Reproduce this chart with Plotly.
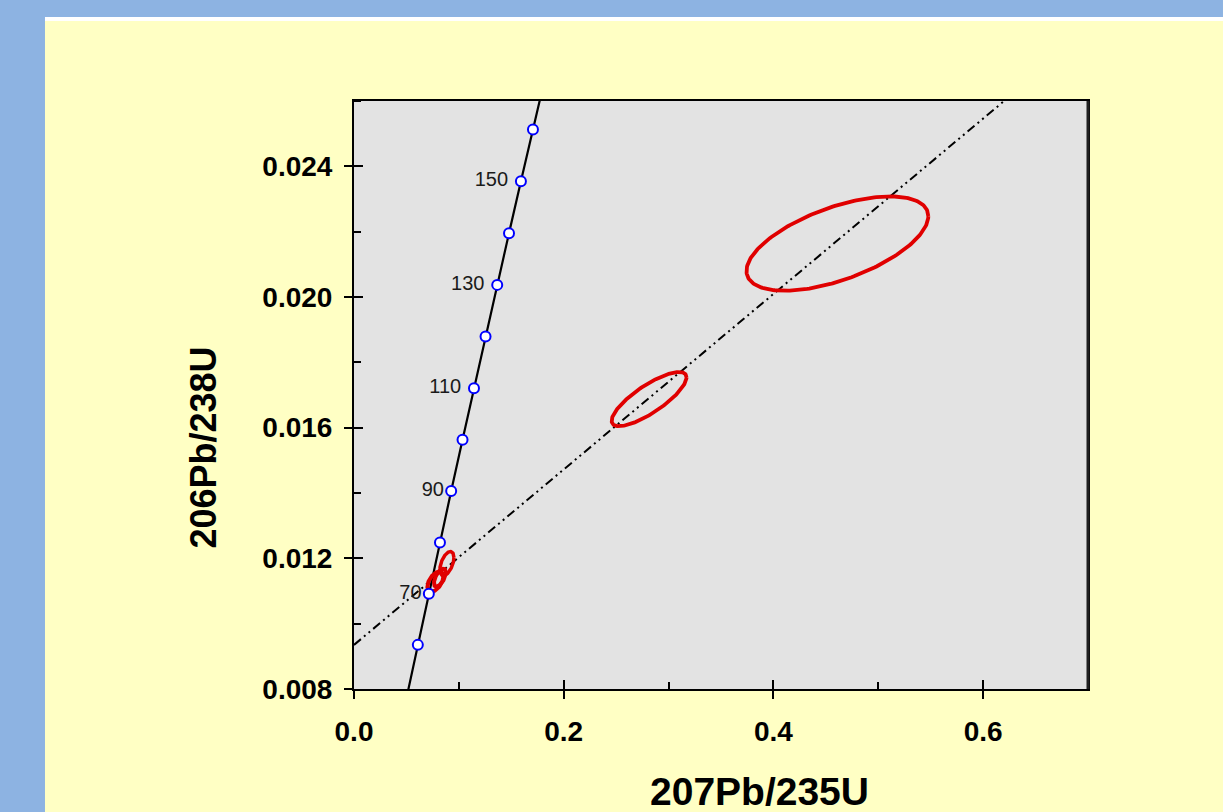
import numpy as np
import plotly.graph_objects as go

# ---------------- data ----------------
# Concordia curve (207Pb/235U, 206Pb/238U) at ages in Ma
conc_age = [50, 60, 70, 80, 90, 100, 110, 120, 130, 140, 150, 160, 170]
conc_x = [0.05048, 0.06087, 0.07137, 0.08198, 0.09268, 0.10350, 0.11442,
          0.12545, 0.13659, 0.14783, 0.15919, 0.17067, 0.18226]
conc_y = [0.007786, 0.009351, 0.010918, 0.012487, 0.014059, 0.015633, 0.017210,
          0.018789, 0.020371, 0.021955, 0.023542, 0.025131, 0.026722]

# age markers shown on the curve, labelled every 20 Ma
marker_ages = [60, 70, 80, 90, 100, 110, 120, 130, 140, 150, 160]
label_ages = [70, 90, 110, 130, 150]
label_text = ["70", "90", "110\u00a0", "130\u00a0", "150\u00a0"]

# Discordia line end points
disc_x = [0.0, 0.62]
disc_y = [0.00935, 0.02600]

# Error ellipses: centre x, centre y, half-width x, half-height y, correlation
ell_cx = [0.0776, 0.0819, 0.0886, 0.2814, 0.4610]
ell_cy = [0.011286, 0.011409, 0.011839, 0.016875, 0.021636]
ell_ax = [0.0076, 0.0057, 0.0067, 0.0357, 0.0867]
ell_by = [0.000307, 0.000276, 0.000369, 0.000829, 0.001443]
ell_rho = [0.50, 0.60, 0.50, 0.80, 0.58]
ell_lw = [4, 4, 3.5, 3.8, 3.8]

x_ticks = [0.0, 0.2, 0.4, 0.6]
x_minor = [0.1, 0.3, 0.5]
y_ticks = [0.008, 0.012, 0.016, 0.020, 0.024]
y_minor = [0.010, 0.014, 0.018, 0.022, 0.026]

x_title = "207Pb/235U"
y_title = "206Pb/238U"

# ---------------- figure ----------------
FONT = "Arial, Liberation Sans, sans-serif"
fig = go.Figure()

# discordia
fig.add_trace(go.Scatter(
    x=disc_x, y=disc_y, mode="lines",
    line=dict(color="black", width=2, dash="9px,4px,2px,4px,2px,4px"),
    hoverinfo="skip"))

# concordia curve
fig.add_trace(go.Scatter(
    x=conc_x, y=conc_y, mode="lines",
    line=dict(color="black", width=2.2), hoverinfo="skip"))

# ellipses
t = np.linspace(0, 2 * np.pi, 241)
for cx, cy, a, b, r, lw in zip(ell_cx, ell_cy, ell_ax, ell_by, ell_rho, ell_lw):
    ex = cx + a * np.cos(t)
    ey = cy + b * (r * np.cos(t) + np.sqrt(1 - r * r) * np.sin(t))
    fig.add_trace(go.Scatter(x=ex, y=ey, mode="lines",
                             line=dict(color="#E00000", width=lw),
                             hoverinfo="skip"))

# age markers
mx = [conc_x[conc_age.index(a)] for a in marker_ages]
my = [conc_y[conc_age.index(a)] for a in marker_ages]
mt = [label_text[label_ages.index(a)] if a in label_ages else ""
      for a in marker_ages]
fig.add_trace(go.Scatter(
    x=mx, y=my, mode="markers+text", text=mt, textposition="middle left",
    textfont=dict(family=FONT, size=20, color="#1a1a1a"),
    marker=dict(symbol="circle", size=10, color="white",
                line=dict(color="#0000FF", width=2)),
    hoverinfo="skip"))

# dummy trace for overlay axes (inside part of major ticks)
fig.add_trace(go.Scatter(x=[None], y=[None], xaxis="x2", yaxis="y2",
                         mode="markers", hoverinfo="skip", showlegend=False))

tickfont = dict(family=FONT, size=28, color="black", weight="bold")

fig.update_layout(
    width=1223, height=812,
    margin=dict(l=354, r=135, t=101, b=123, pad=0),
    paper_bgcolor="#FFFFC4",
    plot_bgcolor="#E3E3E3",
    showlegend=False,
    xaxis=dict(
        range=[0, 0.7], tickmode="array", tickvals=x_ticks,
        tickformat=".1f", ticks="outside", ticklen=8, tickwidth=2,
        tickcolor="black", showline=True, linewidth=2, linecolor="black",
        mirror=True, showgrid=False, zeroline=False, tickfont=tickfont,
        ticklabelstandoff=8,
        minor=dict(tickmode="array", tickvals=x_minor, ticks="inside",
                   ticklen=7, tickwidth=2, tickcolor="black", showgrid=False),
    ),
    yaxis=dict(
        range=[0.008, 0.026], tickmode="array", tickvals=y_ticks,
        tickformat=".3f", ticks="outside", ticklen=8, tickwidth=2,
        tickcolor="black", showline=True, linewidth=2, linecolor="black",
        mirror=True, showgrid=False, zeroline=False, tickfont=tickfont,
        ticklabelstandoff=6,
        minor=dict(tickmode="array", tickvals=y_minor, ticks="inside",
                   ticklen=7, tickwidth=2, tickcolor="black", showgrid=False),
    ),
    xaxis2=dict(
        range=[0, 0.7], overlaying="x", anchor="y2", side="bottom",
        tickmode="array", tickvals=x_ticks, ticks="inside", ticklen=9,
        tickwidth=2, tickcolor="black", showticklabels=False,
        showline=False, showgrid=False, zeroline=False),
    yaxis2=dict(
        range=[0.008, 0.026], overlaying="y", anchor="x2", side="left",
        tickmode="array", tickvals=y_ticks, ticks="inside", ticklen=9,
        tickwidth=2, tickcolor="black", showticklabels=False,
        showline=False, showgrid=False, zeroline=False),
)

# axis titles (offset from centre as in the reference)
fig.add_annotation(text=x_title, xref="paper", yref="paper",
                   x=0.5518, y=-0.1745, xanchor="center", yanchor="middle",
                   showarrow=False,
                   font=dict(family=FONT, size=39, color="black", weight="bold"))
fig.add_annotation(text=y_title, xref="paper", yref="paper",
                   x=-0.2050, y=0.4099, xanchor="center", yanchor="middle",
                   textangle=-90, showarrow=False,
                   font=dict(family=FONT, size=36, color="black", weight="bold"))

# heavier right frame edge, as in the reference
fig.add_shape(type="line", xref="paper", yref="paper",
              x0=1.0, x1=1.0, y0=0.0, y1=1.0,
              line=dict(color="#202020", width=3), layer="above")

# page frame: blue strips at left and top, thin white line
fig.add_shape(type="rect", xref="paper", yref="paper",
              x0=-0.4823, x1=-0.4210, y0=-0.2092, y1=1.1718,
              fillcolor="#8DB3E2", line=dict(width=0), layer="below")
fig.add_shape(type="rect", xref="paper", yref="paper",
              x0=-0.4823, x1=1.1839, y0=1.1429, y1=1.1718,
              fillcolor="#8DB3E2", line=dict(width=0), layer="below")
fig.add_shape(type="rect", xref="paper", yref="paper",
              x0=-0.4210, x1=1.1839, y0=1.1361, y1=1.1429,
              fillcolor="#FFFFFF", line=dict(width=0), layer="below")

fig.write_html(
    "out.html",
    config={"displayModeBar": False},
    post_script="document.body.style.margin='0';"
                "document.body.style.overflow='hidden';",
)
